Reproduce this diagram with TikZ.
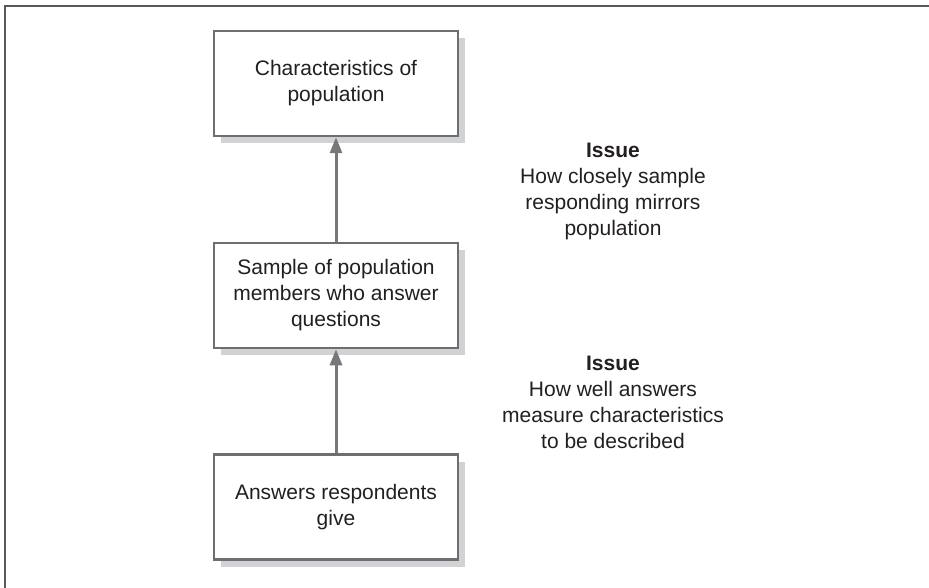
\documentclass[tikz,border=0pt]{standalone}
\usepackage{fontspec}
\setmainfont{Liberation Sans}
\usetikzlibrary{shadows,arrows.meta}
\definecolor{framegray}{HTML}{58585A}
\definecolor{boxgray}{HTML}{6D6E71}
\definecolor{arrowgray}{HTML}{77787B}
\definecolor{shadowgray}{HTML}{D1D2D4}
\definecolor{textgray}{HTML}{231F20}

\begin{document}
\begin{tikzpicture}[x=1pt,y=-1pt]
        % Définition des styles
        \tikzset{
            block/.style={rectangle, draw=boxgray, line width=2.5pt, fill=white,
                         minimum width=244pt, minimum height=105pt, align=center,
                         font=\fontsize{21}{26}\selectfont, text=textgray,
                         drop shadow={shadow xshift=7pt, shadow yshift=-7pt,
                                      fill=shadowgray, opacity=1}},
            issue/.style={align=center, font=\fontsize{21}{26}\selectfont, text=textgray},
            arrow/.style={-{Triangle[length=16pt,width=12pt]}, line width=3pt, draw=arrowgray}
        }
        \useasboundingbox (0,0) rectangle (929,588);

        % Cadre
        \draw[framegray, line width=2pt] (929,6) -- (5,6) -- (5,588);

        % Blocs
        \node[block] (characteristics) at (336,83.5) {Characteristics of\\population};
        \node[block] (sample) at (336,295.5) {Sample of population\\members who answer\\questions};
        \node[block] (answers) at (336,507) {Answers respondents\\give};

        % Connexions
        \draw[arrow] (answers) -- (sample);
        \draw[arrow] (sample) -- (characteristics);

        % Annotations
        \node[issue] (issuemirror) at (613,191.5) {\textbf{Issue}\\How closely sample\\responding mirrors\\population};
        \node[issue] (issuemeasure) at (613,402) {\textbf{Issue}\\How well answers\\measure characteristics\\to be described};
    \end{tikzpicture}
\end{document}
